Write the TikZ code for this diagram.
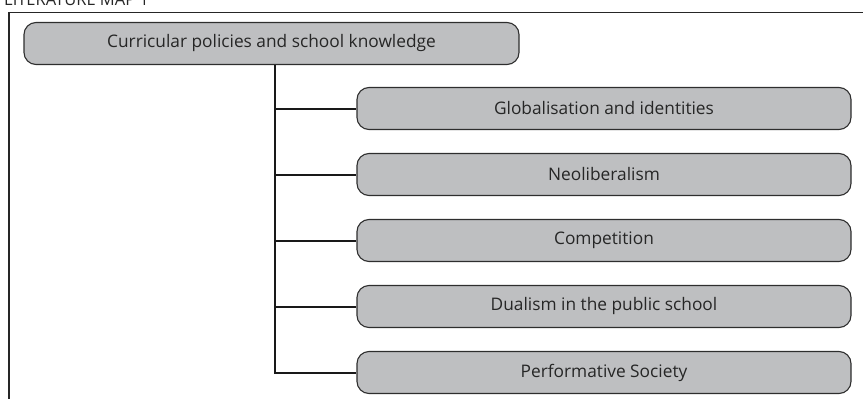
\documentclass[tikz,border=0pt]{standalone}
\usepackage{fontspec}
\setmainfont{Open Sans}
\definecolor{boxfill}{HTML}{BEBFC1}
\definecolor{boxline}{HTML}{2E2E2E}
\begin{document}
\begin{tikzpicture}[x=1pt,y=-1pt,
  topicbox/.style={draw=boxline, fill=boxfill, line width=1.1pt, rounded corners=12pt,
    minimum height=42pt, inner sep=0pt, font=\fontsize{17.3}{20}\selectfont, text=black!85},
  branch/.style={draw=black!90, line width=2pt},
  frameline/.style={draw=black!85, line width=1.6pt}]
\useasboundingbox (0,0) rectangle (863,399);
\clip (0,0) rectangle (863,399);
\node[anchor=base west, inner sep=0pt, font=\fontsize{16.5}{18}\selectfont, text=black!85] (title) at (4,5.5) {LITERATURE MAP 1};
\draw[frameline] (9,400) -- (9,12.5) -- (864,12.5);
\node[topicbox, minimum width=495pt] (root) at (271.5,43.5) {Curricular policies and school knowledge};
\node[topicbox, minimum width=494pt] (c1) at (604,108.5) {Globalisation and identities};
\node[topicbox, minimum width=494pt] (c2) at (604,174.5) {Neoliberalism};
\node[topicbox, minimum width=494pt] (c3) at (604,240.5) {Competition};
\node[topicbox, minimum width=494pt] (c4) at (604,306.5) {Dualism in the public school};
\node[topicbox, minimum width=494pt] (c5) at (604,372.5) {Performative Society};
\coordinate (trunk) at (275,0);
\draw[branch] (root.south -| trunk) -- (trunk |- c5.west) -- (c5.west);
\foreach \c in {c1,c2,c3,c4}{
  \draw[branch] (trunk |- \c.west) -- (\c.west);
}
\end{tikzpicture}
\end{document}
